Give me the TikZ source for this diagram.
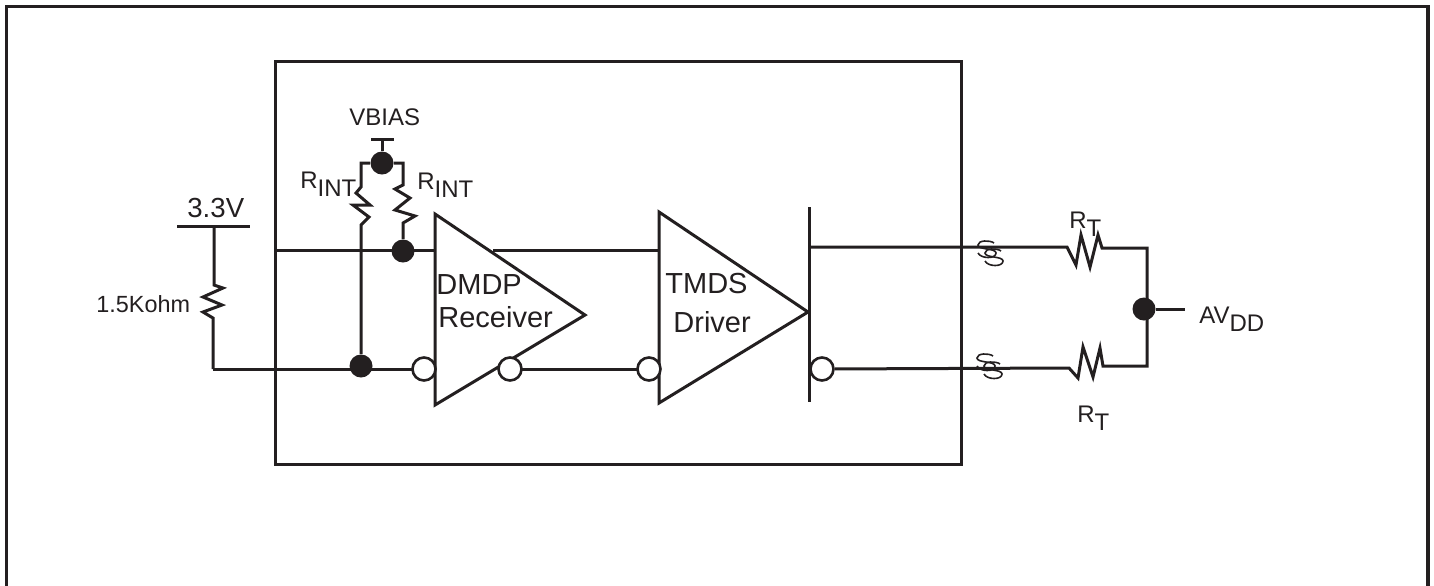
\documentclass[tikz,border=0pt]{standalone}
\usepackage{fontspec}
\setmainfont{Liberation Sans}
\definecolor{inkblack}{RGB}{35,31,32}
\newcommand{\subdown}[1]{\raisebox{-4pt}{#1}}
\newcommand{\twistmark}[2]{%
  \foreach \dx/\dy in {0/0, 7/8} {
    \draw[inkblack, line width=.8pt] (#1+\dx+17,#2+\dy+2) .. controls (#1+\dx+13,#2+\dy-1) and (#1+\dx+1,#2+\dy-1) .. (#1+\dx+1,#2+\dy+4)
      .. controls (#1+\dx+1,#2+\dy+9) and (#1+\dx+19,#2+\dy+7) .. (#1+\dx+19,#2+\dy+12)
      .. controls (#1+\dx+19,#2+\dy+18) and (#1+\dx+4,#2+\dy+18) .. (#1+\dx+1,#2+\dy+12);
  }
}
\tikzset{
  wire/.style={inkblack, line width=1.5pt, line cap=butt, line join=miter},
  dotnode/.style={circle, fill=inkblack, draw=none, inner sep=0pt, minimum size=11.5pt},
  bubble/.style={circle, fill=white, draw=inkblack, line width=1.3pt, inner sep=0pt, minimum size=11.5pt},
  biglbl/.style={inkblack, inner sep=0pt, anchor=base west, font=\fontsize{14.5}{16}\selectfont},
  lbl/.style={inkblack, inner sep=0pt, anchor=base west, font=\fontsize{12}{14}\selectfont}
}
\begin{document}
\begin{tikzpicture}[x=0.5pt, y=-0.5pt]
\useasboundingbox (0,0) rectangle (1434,585);
\draw[wire, line width=1.6pt] (6.5,590) |- (1428,6.5) -- (1428,590);
\draw[wire] (275,61) rectangle (961,464);
% bias network
\node[lbl] (vbias) at (349,125) {VBIAS};
\coordinate (biastop) at (382,139);
\draw[wire] (371,139) -- (394,139);
\node[dotnode] (biasdot) at (382,163) {};
\draw[wire] (biastop) -- (biasdot);
\node[dotnode] (topdot) at (403,251) {};
\node[dotnode] (botdot) at (361,366) {};
% left RINT
\draw[wire] (biasdot) -| (361,187) -- (356,193) -- (370,205) -- (353,205) -- (369,217) -- (361,225) -- (botdot);
% right RINT
\draw[wire] (biasdot) -| (403,185) -- (395,189) -- (410,198) -- (395,210) -- (415,216) -- (403,223) -- (topdot);
\node[lbl] (rintl) at (300,188) {R\subdown{INT}};
\node[lbl] (rintr) at (417,189) {R\subdown{INT}};
% pull up
\draw[wire] (177,226) -- (250,226);
\node[biglbl, font=\fontsize{13.8}{16}\selectfont] (vcc) at (187,217) {3.3V};
\coordinate (pullup) at (214,226);
\coordinate (corner) at (213,369);
\draw[wire] (pullup) -- (214,285) -- (223,288) -- (203,297) -- (222,305) -- (203,312) -- (213,318) -- (corner);
\node[lbl, font=\fontsize{11.7}{14}\selectfont] (pullval) at (96,312) {1.5Kohm};
% wires
\coordinate (wiretopl) at (275,250);
\coordinate (wirebotl) at (424,369);
\draw[wire] (corner) -- (wirebotl);
\draw[wire] (wiretopl) -- (435,250);
% receiver
\draw[wire, fill=white] (435,214) -- (585,315) -- (435,405) -- cycle;
\node[biglbl] (rxa) at (436,294) {DMDP};
\node[biglbl] (rxb) at (438,327) {Receiver};
\draw[wire] (493,250) -- (659,250);
\draw[wire] (510,369) -- (649,369);
\node[bubble] (bubblea) at (424,369) {};
\node[bubble] (bubbleb) at (510,369) {};
% driver
\draw[wire, fill=white] (659,212) -- (808,312) -- (659,403) -- cycle;
\node[biglbl] (txa) at (665,293) {TMDS};
\node[biglbl] (txb) at (673,332) {Driver};
\node[bubble] (bubblec) at (649,369) {};
\draw[wire] (809,207) -- (809,402);
\node[bubble] (bubbled) at (822,369) {};
% outputs
\draw[wire] (808,247) -- (1067,247) -- (1076,265) -- (1081,235) -- (1090,267) -- (1098,235) -- (1102,248) -- (1147,248) -- (1147,366) -- (1103,366) -- (1100,348) -- (1093,377) -- (1083,347) -- (1078,378) -- (1069,368) -- (bubbled);
\node[dotnode] (avdot) at (1144,309) {};
\coordinate (avend) at (1185,309);
\draw[wire] (avdot) -- (avend);
\node[lbl] (avdd) at (1199,323) {AV\subdown{DD}};
\node[lbl] (rta) at (1069,228) {R\subdown{T}};
\node[lbl] (rtb) at (1077,422) {R\subdown{T}};
\twistmark{977}{241}
\twistmark{976}{354}
\end{tikzpicture}
\end{document}
